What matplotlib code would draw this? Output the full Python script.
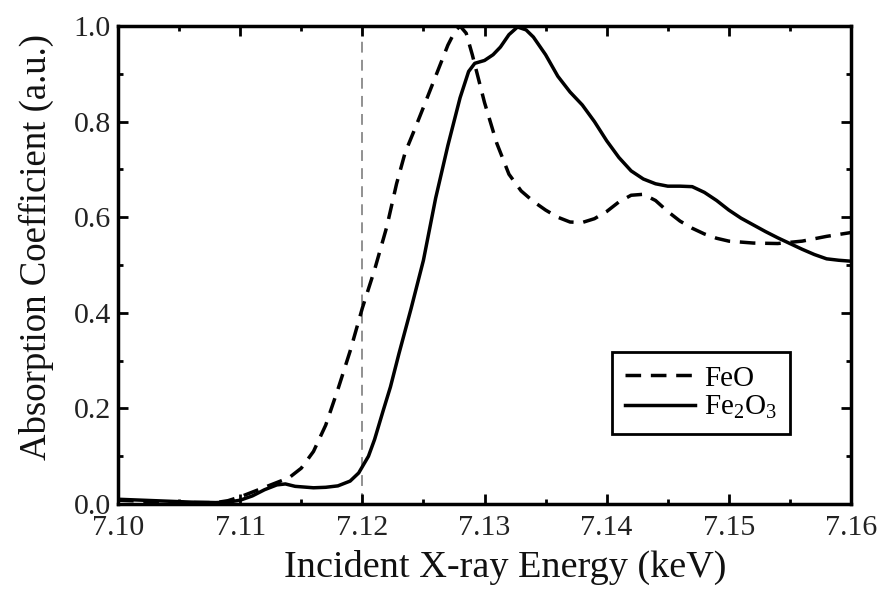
import matplotlib
matplotlib.use("Agg")
import matplotlib.pyplot as plt
from matplotlib.ticker import MultipleLocator

plt.rcParams['font.family'] = 'Liberation Serif'
plt.rcParams['mathtext.fontset'] = 'custom'
plt.rcParams['mathtext.rm'] = 'Liberation Serif'
plt.rcParams['mathtext.it'] = 'Liberation Serif:italic'

# FeO spectrum
feo_x = [7.100, 7.102, 7.104, 7.106, 7.108, 7.109, 7.110, 7.111, 7.112, 7.113,
         7.114, 7.115, 7.116, 7.117, 7.118, 7.119, 7.120, 7.121, 7.122, 7.1228,
         7.1235, 7.1243, 7.125, 7.126, 7.127, 7.1276, 7.128, 7.1285, 7.129, 7.130,
         7.131, 7.132, 7.133, 7.134, 7.135, 7.136, 7.137, 7.138, 7.139, 7.140,
         7.141, 7.142, 7.143, 7.144, 7.145, 7.146, 7.147, 7.148, 7.149, 7.150,
         7.152, 7.154, 7.156, 7.158, 7.160]
feo_y = [0.008, 0.006, 0.004, 0.003, 0.003, 0.007, 0.015, 0.025, 0.035, 0.045,
         0.055, 0.075, 0.110, 0.165, 0.240, 0.320, 0.410, 0.490, 0.580, 0.670,
         0.735, 0.785, 0.830, 0.895, 0.960, 0.990, 1.000, 0.985, 0.940, 0.840,
         0.755, 0.690, 0.655, 0.633, 0.615, 0.600, 0.590, 0.589, 0.597, 0.612,
         0.632, 0.646, 0.648, 0.635, 0.612, 0.592, 0.577, 0.565, 0.556, 0.550,
         0.546, 0.545, 0.550, 0.560, 0.568]

# Fe2O3 spectrum
fe2o3_x = [7.100, 7.102, 7.104, 7.106, 7.108, 7.109, 7.110, 7.111, 7.112, 7.113,
           7.1137, 7.1145, 7.116, 7.117, 7.118, 7.119, 7.1197, 7.1205, 7.121, 7.1217,
           7.1223, 7.123, 7.124, 7.125, 7.126, 7.127, 7.128, 7.1287, 7.1292, 7.130,
           7.1307, 7.1313, 7.132, 7.1327, 7.1334, 7.134, 7.135, 7.136, 7.137, 7.138,
           7.139, 7.140, 7.141, 7.142, 7.143, 7.144, 7.145, 7.146, 7.147, 7.148,
           7.149, 7.150, 7.151, 7.152, 7.153, 7.154, 7.155, 7.156, 7.157, 7.158,
           7.159, 7.160]
fe2o3_y = [0.010, 0.008, 0.006, 0.004, 0.003, 0.004, 0.008, 0.017, 0.030, 0.040,
           0.042, 0.037, 0.034, 0.035, 0.038, 0.048, 0.065, 0.100, 0.135, 0.195,
           0.245, 0.315, 0.410, 0.510, 0.640, 0.750, 0.850, 0.905, 0.922, 0.928,
           0.940, 0.956, 0.982, 0.998, 0.992, 0.977, 0.940, 0.895, 0.862, 0.835,
           0.800, 0.760, 0.725, 0.697, 0.680, 0.670, 0.665, 0.665, 0.664, 0.652,
           0.635, 0.615, 0.598, 0.584, 0.570, 0.557, 0.545, 0.533, 0.522, 0.513,
           0.510, 0.508]

edge_energy = 7.12

fig = plt.figure(figsize=(8.9, 5.92), dpi=100)
ax = fig.add_axes([0.1326, 0.1486, 0.8236, 0.8074])

ax.axvline(edge_energy, color='#888888', lw=1.3, ls=(0, (6, 4)), zorder=1)
ax.plot(feo_x, feo_y, color='black', lw=2.5, ls=(0, (4.5, 2.8)), label='FeO', zorder=3)
ax.plot(fe2o3_x, fe2o3_y, color='black', lw=2.5, label=r'Fe$_2$O$_3$', zorder=3)

ax.set_xlim(7.10, 7.16)
ax.set_ylim(0.0, 1.0)
ax.xaxis.set_major_locator(MultipleLocator(0.01))
ax.xaxis.set_minor_locator(MultipleLocator(0.005))
ax.yaxis.set_major_locator(MultipleLocator(0.2))
ax.yaxis.set_minor_locator(MultipleLocator(0.1))
ax.xaxis.set_major_formatter(plt.FormatStrFormatter('%.2f'))
ax.yaxis.set_major_formatter(plt.FormatStrFormatter('%.1f'))

ax.tick_params(which='both', direction='in', top=True, right=True, width=2, colors='black')
ax.tick_params(which='major', length=7, labelsize=21.5, labelcolor='#222222')
ax.tick_params(which='minor', length=3.5)
ax.tick_params(axis='x', pad=8)
ax.tick_params(axis='y', pad=5)
for s in ax.spines.values():
    s.set_linewidth(2.5)

ax.set_xlabel('Incident X-ray Energy (keV)', fontsize=27.5, labelpad=6, color='#111111')
ax.set_ylabel('Absorption Coefficient (a.u.)', fontsize=26.5, labelpad=14, color='#111111')
ax.xaxis.label.set_x(0.528)
ax.yaxis.label.set_y(0.538)

leg = ax.legend(loc='upper left', bbox_to_anchor=(0.674, 0.318), borderaxespad=0,
                fontsize=21, fancybox=False, edgecolor='black', framealpha=1,
                handlelength=2.4, handletextpad=0.3, borderpad=0.45, labelspacing=0.08)
leg.get_frame().set_linewidth(2)

fig.savefig('out.png', dpi=100)
